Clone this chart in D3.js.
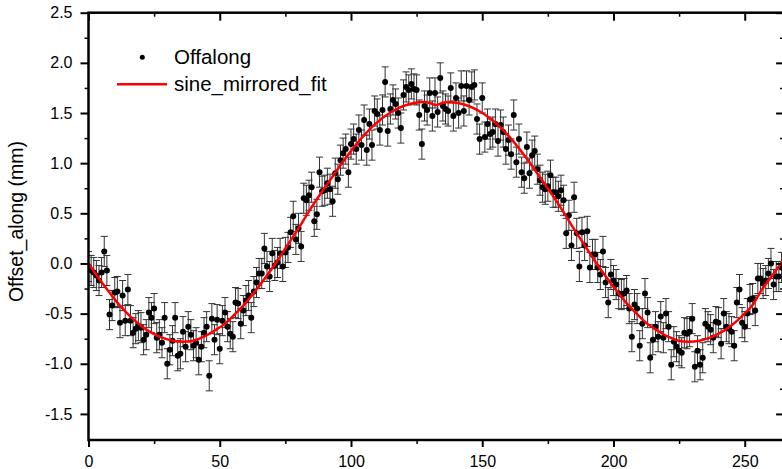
<!DOCTYPE html>
<html>
<head>
<meta charset="utf-8">
<script src="https://cdn.jsdelivr.net/npm/d3@7/dist/d3.min.js"></script>
<style>
  html, body { margin: 0; padding: 0; background: #fff; }
  svg { display: block; font-family: "Liberation Sans", Arial, sans-serif; }
</style>
</head>
<body>
<svg id="chart" width="782" height="469"></svg>
<script>
// Measured along-track offset (mm); one sample per step, step index = x
const offalong = [
  -0.03, -0.07, -0.09, -0.12, -0.17, -0.09, 0.12, -0.07, -0.51, -0.42,
  -0.29, -0.28, -0.59, -0.32, -0.57, -0.26, -0.57, -0.69, -0.65, -0.62,
  -0.64, -0.76, -0.71, -0.49, -0.54, -0.45, -0.74, -0.71, -0.79, -0.54,
  -1.00, -0.86, -0.77, -0.54, -0.92, -0.90, -0.68, -0.83, -0.63, -0.71,
  -0.82, -0.79, -0.96, -0.83, -0.69, -0.63, -1.12, -0.55, -0.76, -0.56,
  -0.85, -0.57, -0.49, -0.63, -0.70, -0.73, -0.39, -0.40, -0.60, -0.47,
  -0.37, -0.32, -0.54, -0.28, -0.19, -0.10, -0.10, 0.15, -0.03, -0.13,
  0.10, -0.02, 0.01, 0.10, -0.03, 0.11, 0.16, 0.31, 0.47, 0.24,
  0.35, 0.17, 0.65, 0.63, 0.68, 0.76, 0.42, 0.49, 0.91, 0.72,
  0.73, 0.80, 0.74, 0.62, 0.90, 0.84, 1.03, 1.10, 1.14, 0.91,
  1.19, 1.24, 1.14, 1.33, 1.18, 1.43, 1.13, 1.39, 1.18, 1.52,
  1.49, 1.33, 1.53, 1.81, 1.32, 1.54, 1.63, 1.59, 1.50, 1.35,
  1.68, 1.76, 1.73, 1.79, 1.74, 1.73, 1.48, 1.19, 1.57, 1.53,
  1.70, 1.47, 1.70, 1.51, 1.85, 1.57, 1.54, 1.52, 1.75, 1.47,
  1.65, 1.50, 1.77, 1.52, 1.77, 1.63, 1.76, 1.78, 1.44, 1.24,
  1.65, 1.26, 1.39, 1.29, 1.31, 1.39, 1.22, 1.38, 1.31, 1.14,
  1.23, 1.09, 1.48, 1.01, 1.24, 0.91, 0.85, 1.16, 0.90, 1.08,
  1.12, 0.94, 0.83, 0.76, 0.74, 0.77, 0.88, 0.71, 0.71, 0.67,
  0.73, 0.63, 0.30, 0.48, 0.18, 0.66, 0.30, -0.03, 0.31, 0.18,
  0.32, -0.04, 0.09, 0.09, -0.04, -0.11, 0.12, -0.19, -0.39, -0.11,
  -0.17, -0.21, -0.30, -0.31, -0.30, -0.27, -0.45, -0.73, -0.41, -0.45,
  -0.82, -0.60, -0.30, -0.49, -0.94, -0.76, -0.63, -0.73, -0.53, -0.74,
  -0.50, -0.63, -1.01, -0.78, -0.83, -0.87, -0.89, -0.69, -0.70, -0.68,
  -0.55, -1.03, -0.87, -1.01, -0.94, -0.60, -0.63, -0.66, -0.74, -0.58,
  -0.59, -0.80, -0.50, -0.63, -0.65, -0.68, -0.82, -0.39, -0.26, -0.59,
  -0.63, -0.50, -0.36, -0.35, -0.47, -0.15, -0.15, -0.20, -0.17, -0.10,
  0.00, -0.21, -0.13, -0.13, -0.04
];
// Half-length of the error bar on every sample (mm)
const offalongError = 0.15;

// Fitted curve, sampled along x
const fitX = [
  0, 4, 8, 12, 16, 20, 24, 28, 32, 36, 40, 44, 48, 52, 56, 60, 64, 68, 72, 76,
  80, 84, 88, 92, 96, 100, 104, 108, 112, 116, 120, 124, 128, 130, 132.4,
  134.8, 136.8, 140.8, 144.8, 148.8, 152.8, 156.8, 160.8, 164.8, 168.8, 172.8,
  176.8, 180.8, 184.8, 188.8, 192.8, 196.8, 200.8, 204.8, 208.8, 212.8, 216.8,
  220.8, 224.8, 228.8, 232.8, 236.8, 240.8, 244.8, 248.8, 252.8, 256.8, 260.8, 264.8
];
const fitY = [
  0.00, -0.15, -0.29, -0.42, -0.53, -0.62, -0.69, -0.74, -0.77, -0.78, -0.77,
  -0.73, -0.67, -0.60, -0.50, -0.39, -0.26, -0.12, 0.03, 0.19,
  0.35, 0.52, 0.68, 0.83, 0.98, 1.12, 1.25, 1.36, 1.45, 1.52, 1.57, 1.60, 1.61, 1.60, 1.58,
  1.60, 1.61, 1.60, 1.57, 1.52, 1.45, 1.36, 1.25, 1.12, 0.98, 0.83,
  0.68, 0.52, 0.35, 0.19, 0.03, -0.12, -0.26, -0.39, -0.50, -0.60, -0.67,
  -0.73, -0.77, -0.78, -0.77, -0.74, -0.69, -0.62, -0.53, -0.42, -0.25, -0.11, 0.04
];

// Axis ticks
const xMajorTicks = [0, 50, 100, 150, 200, 250];
const xMinorTicks = [25, 75, 125, 175, 225];
const yMajorTicks = [2.5, 2.0, 1.5, 1.0, 0.5, 0.0, -0.5, -1.0, -1.5];
const yMinorTicks = [2.25, 1.75, 1.25, 0.75, 0.25, -0.25, -0.75, -1.25];

const legendLabels = ["Offalong", "sine_mirrored_fit"];
const yTitle = "Offset_along (mm)";

const svg = d3.select("#chart");
const plotLeft = 88.5, plotRight = 784.1, plotTop = 12.7, plotBottom = 440;

const x = d3.scaleLinear().domain([0, 265]).range([plotLeft, plotRight]);
const y = d3.scaleLinear().domain([-1.76, 2.5]).range([plotBottom, plotTop]);

const fmtY = d => d.toFixed(1);

// clip for plotted data
svg.append("defs").append("clipPath").attr("id", "plotClip")
  .append("rect").attr("x", plotLeft).attr("y", plotTop)
  .attr("width", plotRight - plotLeft).attr("height", plotBottom - plotTop);

const plot = svg.append("g").attr("clip-path", "url(#plotClip)");

const samples = offalong.map((v, i) => ({ x: i, v }));

// error bars
const capHalf = 3.5;
const eb = plot.append("g").attr("stroke", "#333").attr("stroke-width", 1).attr("fill", "none");
eb.selectAll("path").data(samples).join("path")
  .attr("d", d => {
    const cx = x(d.x), y1 = y(d.v + offalongError), y2 = y(d.v - offalongError);
    return `M${cx},${y1}V${y2}M${cx - capHalf},${y1}H${cx + capHalf}M${cx - capHalf},${y2}H${cx + capHalf}`;
  });

// points
plot.append("g").selectAll("circle").data(samples).join("circle")
  .attr("cx", d => x(d.x)).attr("cy", d => y(d.v)).attr("r", 3).attr("fill", "#000");

// fitted curve
const fitData = fitX.map((fx, i) => [fx, fitY[i]]);
plot.append("path").datum(fitData)
  .attr("fill", "none").attr("stroke", "#ff0000").attr("stroke-width", 2.5)
  .attr("d", d3.line().x(d => x(d[0])).y(d => y(d[1])).curve(d3.curveCatmullRom));

// axes
const axisFont = 16;
function styleAxis(g, width) {
  g.select(".domain").remove();
  g.selectAll(".tick line").attr("stroke", "#000").attr("stroke-width", width);
  g.selectAll(".tick text").attr("fill", "#000").attr("font-size", axisFont)
    .attr("font-family", "'Liberation Sans', Arial, sans-serif");
}

svg.append("g").attr("transform", `translate(0,${plotBottom})`)
  .call(d3.axisBottom(x).tickValues(xMajorTicks).tickSize(7).tickPadding(9).tickFormat(d3.format("d")))
  .call(g => styleAxis(g, 2));
svg.append("g").attr("transform", `translate(0,${plotBottom})`)
  .call(d3.axisBottom(x).tickValues(xMinorTicks).tickSize(4).tickFormat(""))
  .call(g => styleAxis(g, 1.5));

svg.append("g").attr("transform", `translate(${plotLeft},0)`)
  .call(d3.axisLeft(y).tickValues(yMajorTicks).tickSize(8).tickPadding(8).tickFormat(fmtY))
  .call(g => styleAxis(g, 2));
svg.append("g").attr("transform", `translate(${plotLeft},0)`)
  .call(d3.axisLeft(y).tickValues(yMinorTicks).tickSize(4).tickFormat(""))
  .call(g => styleAxis(g, 1.5));

// mirrored ticks on top and right, pointing inward
svg.append("g").attr("transform", `translate(0,${plotTop})`)
  .call(d3.axisBottom(x).tickValues(xMajorTicks).tickSize(8).tickFormat(""))
  .call(g => styleAxis(g, 2));
svg.append("g").attr("transform", `translate(0,${plotTop})`)
  .call(d3.axisBottom(x).tickValues(xMinorTicks).tickSize(4).tickFormat(""))
  .call(g => styleAxis(g, 1.5));
svg.append("g").attr("transform", `translate(${plotRight},0)`)
  .call(d3.axisLeft(y).tickValues(yMajorTicks).tickSize(8).tickFormat(""))
  .call(g => styleAxis(g, 2));
svg.append("g").attr("transform", `translate(${plotRight},0)`)
  .call(d3.axisLeft(y).tickValues(yMinorTicks).tickSize(4).tickFormat(""))
  .call(g => styleAxis(g, 1.5));

// frame
svg.append("rect")
  .attr("x", plotLeft).attr("y", plotTop).attr("width", plotRight - plotLeft).attr("height", plotBottom - plotTop)
  .attr("fill", "none").attr("stroke", "#000").attr("stroke-width", 2.5);

// y-axis title
svg.append("text")
  .attr("transform", "translate(23,221.5) rotate(-90)")
  .attr("text-anchor", "middle").attr("font-size", 19.5).attr("fill", "#000")
  .text(yTitle);

// legend
const legend = svg.append("g");
legend.append("circle").attr("cx", 142.3).attr("cy", 57.3).attr("r", 2.5).attr("fill", "#000");
legend.append("text").attr("x", 174).attr("y", 64).attr("font-size", 20.5).attr("fill", "#000").text(legendLabels[0]);
legend.append("line").attr("x1", 117).attr("x2", 167).attr("y1", 84.3).attr("y2", 84.3)
  .attr("stroke", "#ff0000").attr("stroke-width", 2.5);
legend.append("text").attr("x", 174).attr("y", 91).attr("font-size", 20.5).attr("fill", "#000").text(legendLabels[1]);
</script>
</body>
</html>
